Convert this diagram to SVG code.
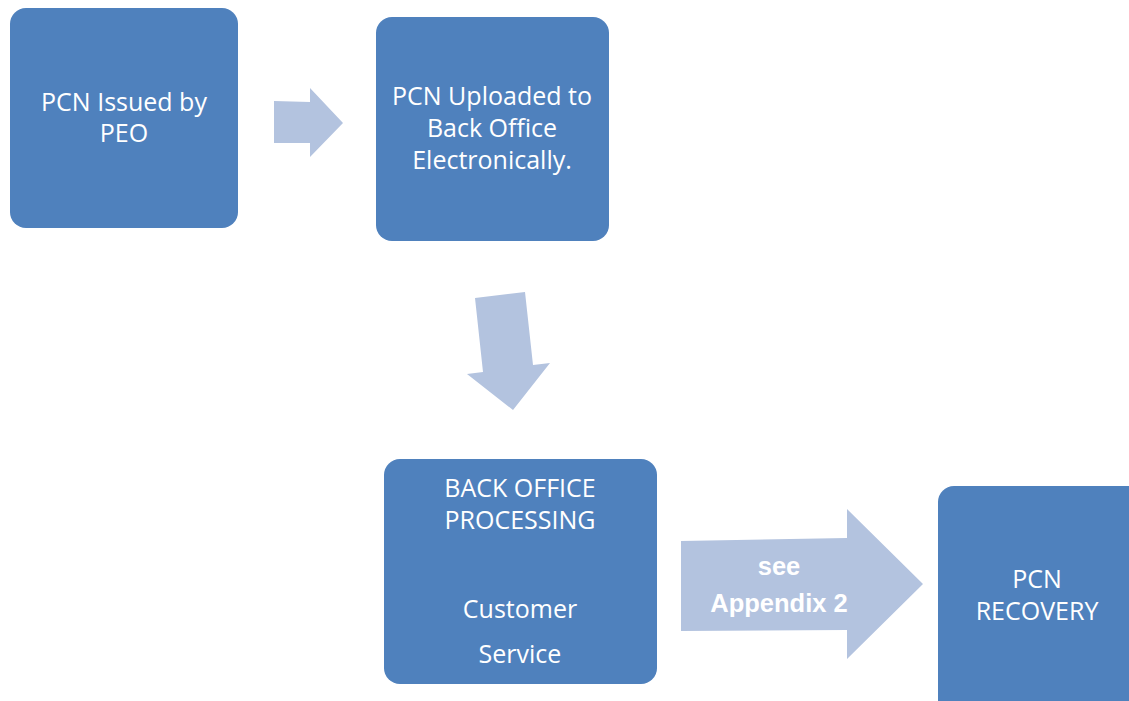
<svg xmlns="http://www.w3.org/2000/svg" width="1129" height="701" viewBox="0 0 1129 701">
<style>
.box{fill:#4F81BD;}
.arr{fill:#B3C3DF;}
.t{fill:#FFFFFF;font-family:"Open Sans","Noto Sans",sans-serif;font-size:25px;text-anchor:middle;}
.a{fill:#FFFFFF;font-family:"Liberation Sans",Arial,sans-serif;font-size:25.5px;font-weight:bold;text-anchor:middle;}
</style>
<rect width="1129" height="701" fill="#FFFFFF"/>
<g id="connectors">
<polygon class="arr" points="274,101 310,102 310,88 343,123 310,157 310,143 274,143"/>
<polygon class="arr" points="475,298 525,292 533,365 550,363 513,410 467,374 483,372"/>
<g id="arrow-appendix">
<polygon class="arr" points="681,541 847,538 847,509 923,584 847,659 847,630 681,631"/>
<text class="a" x="779" y="575">see</text>
<text class="a" x="779" y="612">Appendix 2</text>
</g>
</g>
<g id="node-issued">
<rect class="box" x="10" y="8" width="228" height="220" rx="16"/>
<text class="t" x="124" y="111">PCN Issued by</text>
<text class="t" x="124" y="142">PEO</text>
</g>
<g id="node-uploaded">
<rect class="box" x="376" y="17" width="233" height="224" rx="16"/>
<text class="t" x="492" y="105">PCN Uploaded to</text>
<text class="t" x="492" y="137">Back Office</text>
<text class="t" x="492" y="169">Electronically.</text>
</g>
<g id="node-processing">
<rect class="box" x="384" y="459" width="273" height="225" rx="16"/>
<text class="t" x="520" y="497">BACK OFFICE</text>
<text class="t" x="520" y="529">PROCESSING</text>
<text class="t" x="520" y="618">Customer</text>
<text class="t" x="520" y="663">Service</text>
</g>
<g id="node-recovery">
<rect class="box" x="938" y="486" width="220" height="240" rx="16"/>
<text class="t" x="1037" y="588">PCN</text>
<text class="t" x="1037" y="620">RECOVERY</text>
</g>
</svg>
